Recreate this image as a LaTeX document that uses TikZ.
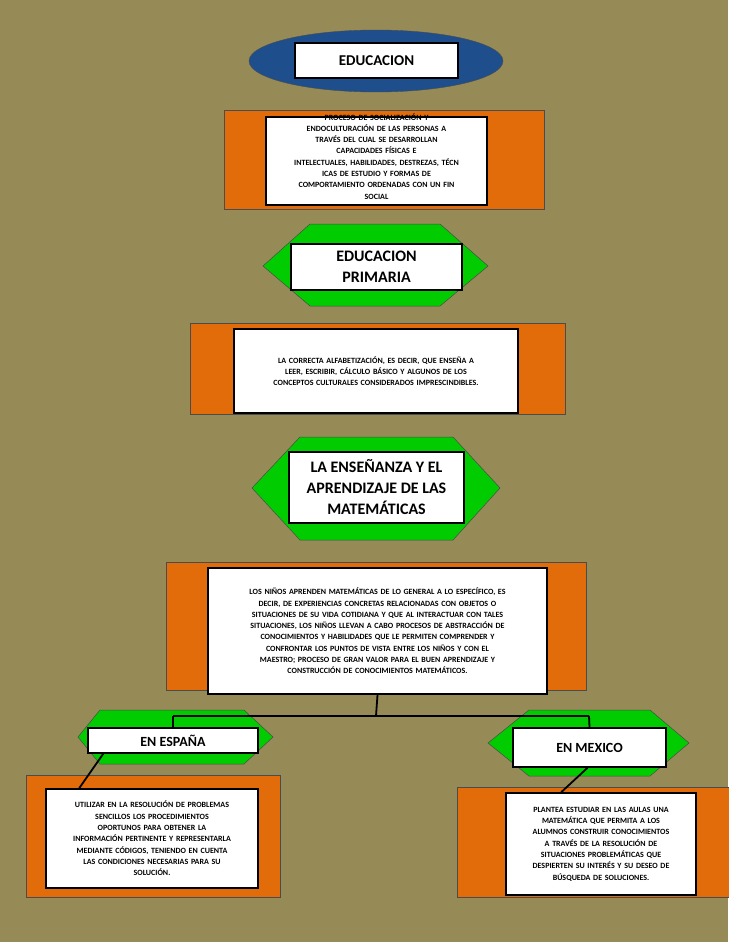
\documentclass[tikz,border=0pt]{standalone}
\usepackage{fontspec}
\setmainfont{Carlito}
\usetikzlibrary{backgrounds}
\definecolor{bgol}{RGB}{150,138,86}
\definecolor{org}{RGB}{227,108,10}
\definecolor{grn}{RGB}{0,204,0}
\definecolor{blu}{RGB}{31,78,140}
\tikzset{
 wbox/.style={draw=black,line width=1.6pt,fill=white,align=center,inner sep=1pt,font=\bfseries},
 obox/.style={draw=black!70,line width=0.5pt,fill=org},
 hexa/.style={draw=black!70,line width=0.5pt,fill=grn},
 conn/.style={line width=1.8pt,black},
 small/.style={font=\bfseries\fontsize{8}{11.3}\selectfont},
 big/.style={font=\bfseries\fontsize{16}{21}\selectfont}
}
\begin{document}
\begin{tikzpicture}[x=1pt,y=-1pt]
\fill[bgol] (0,0) rectangle (728,942);
\useasboundingbox (0,0) rectangle (728,942);
% ellipse
\fill[blu,draw=black!70] (376,61) ellipse (127 and 31);
% orange rects
\path[obox] (224,110) rectangle (544,209);
\path[obox] (190,323) rectangle (565,414);
\path[obox] (166,562) rectangle (586,690);
\path[obox] (26,775) rectangle (280,897);
\path[obox] (457,787) rectangle (729,897);
% hexagons
\path[hexa] (263,266) -- (310,224) -- (440,224) -- (488,266) -- (440,306) -- (310,306) -- cycle;
\path[hexa] (252,488) -- (300,437) -- (453,437) -- (500,488) -- (453,540) -- (300,540) -- cycle;
\path[hexa] (78,737) -- (100,710) -- (244,710) -- (273,737) -- (244,764) -- (100,764) -- cycle;
\path[hexa] (488,743) -- (529,710) -- (650,710) -- (689,743) -- (650,776) -- (529,776) -- cycle;
% white boxes
\node[wbox,big,font=\bfseries\fontsize{15}{18}\selectfont,minimum width=163,minimum height=35] (edu) at (376.5,60.5) {EDUCACION};
\node[wbox,small,text width=219,minimum height=88] (def) at (376.5,161) {\\[-14pt]PROCESO DE SOCIALIZACIÓN Y\\ ENDOCULTURACIÓN DE LAS PERSONAS A\\ TRAVÉS DEL CUAL SE DESARROLLAN\\ CAPACIDADES FÍSICAS E\\ INTELECTUALES, HABILIDADES, DESTREZAS, TÉCN\\ ICAS DE ESTUDIO Y FORMAS DE\\ COMPORTAMIENTO ORDENADAS CON UN FIN\\ SOCIAL};
\node[wbox,big,minimum width=171,minimum height=46] (prim) at (376.5,267) {EDUCACION\\ PRIMARIA};
\node[wbox,small,text width=282,minimum height=84] (alf) at (376,371) {LA CORRECTA ALFABETIZACIÓN, ES DECIR, QUE ENSEÑA A\\ LEER, ESCRIBIR, CÁLCULO BÁSICO Y ALGUNOS DE LOS\\ CONCEPTOS CULTURALES CONSIDERADOS IMPRESCINDIBLES.};
\node[wbox,big,minimum width=175,minimum height=71] (mat) at (376.5,487.5) {LA ENSEÑANZA Y EL\\ APRENDIZAJE DE LAS\\ MATEMÁTICAS};
\node[wbox,small,text width=337,minimum height=126] (ninos) at (377.5,631) {LOS NIÑOS APRENDEN MATEMÁTICAS DE LO GENERAL A LO ESPECÍFICO, ES\\ DECIR, DE EXPERIENCIAS CONCRETAS RELACIONADAS CON OBJETOS O\\ SITUACIONES DE SU VIDA COTIDIANA Y QUE AL INTERACTUAR CON TALES\\ SITUACIONES, LOS NIÑOS LLEVAN A CABO PROCESOS DE ABSTRACCIÓN DE\\ CONOCIMIENTOS Y HABILIDADES QUE LE PERMITEN COMPRENDER Y\\ CONFRONTAR LOS PUNTOS DE VISTA ENTRE LOS NIÑOS Y CON EL\\ MAESTRO; PROCESO DE GRAN VALOR PARA EL BUEN APRENDIZAJE Y\\ CONSTRUCCIÓN DE CONOCIMIENTOS MATEMÁTICOS.};
\node[wbox,font=\bfseries\fontsize{14}{17}\selectfont,minimum width=170,minimum height=25] (esp) at (173,740.5) {EN ESPAÑA};
\node[wbox,font=\bfseries\fontsize{14}{17}\selectfont,minimum width=153,minimum height=39] (mex) at (589.5,747.5) {EN MEXICO};
\node[wbox,small,text width=210,minimum height=99] (espt) at (152,838.5) {UTILIZAR EN LA RESOLUCIÓN DE PROBLEMAS\\ SENCILLOS LOS PROCEDIMIENTOS\\ OPORTUNOS PARA OBTENER LA\\ INFORMACIÓN PERTINENTE Y REPRESENTARLA\\ MEDIANTE CÓDIGOS, TENIENDO EN CUENTA\\ LAS CONDICIONES NECESARIAS PARA SU\\ SOLUCIÓN.};
\node[wbox,small,text width=188,minimum height=102] (mext) at (601,844) {PLANTEA ESTUDIAR EN LAS AULAS UNA\\ MATEMÁTICA QUE PERMITA A LOS\\ ALUMNOS CONSTRUIR CONOCIMIENTOS\\ A TRAVÉS DE LA RESOLUCIÓN DE\\ SITUACIONES PROBLEMÁTICAS QUE\\ DESPIERTEN SU INTERÉS Y SU DESEO DE\\ BÚSQUEDA DE SOLUCIONES.};
\coordinate (jn) at (376,716);
\coordinate (jl) at (173,716);
\coordinate (jr) at (589,716);
\begin{scope}[on background layer]
\draw[conn] (edu) -- (def);
\draw[conn] (def) -- (prim);
\draw[conn] (prim) -- (alf);
\draw[conn] (alf) -- (mat);
\draw[conn] (mat) -- (ninos);
\end{scope}
\draw[conn] (ninos.south) -- (jn);
\draw[conn] (jl) -- (jr);
\draw[conn] (jl) -- (esp.north);
\draw[conn] (jr) -- (mex.north);
\draw[conn] (esp.south west) ++(16,0) coordinate (a1) (espt.north west) ++(34,0) coordinate (a2);
\draw[conn] (a1) -- (a2);
\draw[conn] (mex.south) ++(-2,0) coordinate (b1) (mext.north west) ++(56,0) coordinate (b2);
\draw[conn] (b1) -- (b2);
\end{tikzpicture}
\end{document}
